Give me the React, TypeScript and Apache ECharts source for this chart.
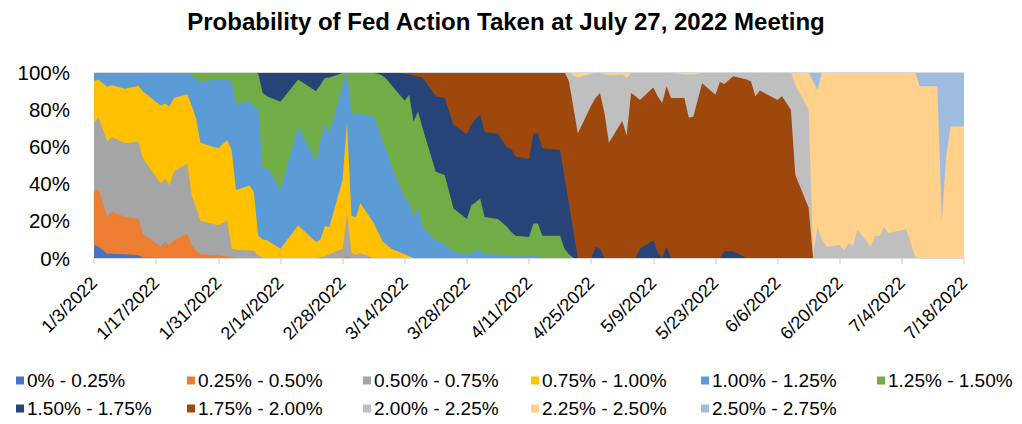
import React, { useEffect, useRef } from "react";
import * as echarts from "echarts";

// Observation dates (2022)
const dates = [
  "1/3", "1/4", "1/6", "1/7", "1/10", "1/13", "1/14", "1/18", "1/19", "1/20",
  "1/21", "1/24", "1/25", "1/26", "1/27", "1/31", "2/2", "2/3", "2/4", "2/7",
  "2/8", "2/9", "2/10", "2/11", "2/14", "2/18", "2/22", "2/23", "2/24", "2/25",
  "2/28", "3/1", "3/2", "3/3", "3/4", "3/7", "3/8", "3/9", "3/10", "3/11",
  "3/14", "3/15", "3/16", "3/17", "3/18", "3/21", "3/23", "3/25", "3/28", "3/29",
  "3/30", "3/31", "4/1", "4/4", "4/6", "4/7", "4/8", "4/11", "4/12", "4/13",
  "4/14", "4/18", "4/19", "4/20", "4/21", "4/22", "4/25", "4/26", "4/27", "4/28",
  "4/29", "5/2", "5/3", "5/4", "5/5", "5/6", "5/9", "5/10", "5/11", "5/12",
  "5/13", "5/16", "5/17", "5/18", "5/20", "5/23", "5/24", "5/25", "5/27", "5/30",
  "5/31", "6/1", "6/2", "6/6", "6/7", "6/9", "6/10", "6/13", "6/14", "6/15",
  "6/16", "6/17", "6/20", "6/21", "6/22", "6/23", "6/24", "6/27", "6/28", "6/29",
  "6/30", "7/1", "7/5", "7/7", "7/8", "7/12", "7/13", "7/14", "7/15", "7/18",
];

const seriesNames = [
  "0% - 0.25%", "0.25% - 0.50%", "0.50% - 0.75%", "0.75% - 1.00%",
  "1.00% - 1.25%", "1.25% - 1.50%", "1.50% - 1.75%", "1.75% - 2.00%",
  "2.00% - 2.25%", "2.25% - 2.50%", "2.50% - 2.75%",
];

const Z10 = [0, 0, 0, 0, 0, 0, 0, 0, 0, 0];

const p000_025 = [
  7, 6, 2.3, 2.3, 2, 1.5, 0.3, 0, 0, 0,
  ...Z10, ...Z10, ...Z10, ...Z10, ...Z10, ...Z10, ...Z10, ...Z10, ...Z10, ...Z10, ...Z10,
];
const p025_050 = [
  28.6, 31, 19.7, 22.7, 20, 19.5, 12.7, 6, 8.6, 7,
  9.5, 13, 7, 4, 2, 1.4, 1, 0.5, 0, 0,
  ...Z10,
  0, 1, 0, 0, 0, 0, 0, 0, 0, 0,
  ...Z10, ...Z10, ...Z10, ...Z10, ...Z10, ...Z10, ...Z10, ...Z10,
];
const p050_075 = [
  37.4, 38.5, 40.6, 40, 39.7, 41.6, 40.6, 34, 34.2, 32,
  36.9, 38, 26.8, 23, 18, 16.2, 19, 4.5, 4.5, 4,
  4, 1.5, 0, 0, 0, 0, 0, 0.5, 1, 2,
  5, 23, 3, 1.5, 2.5, 0, 0, 0, 0, 0,
  ...Z10, ...Z10, ...Z10, ...Z10, ...Z10, ...Z10, ...Z10, ...Z10,
];
const p075_100 = [
  22, 20.5, 29.4, 28, 29.3, 30, 36, 42, 40.2, 42.5,
  39.6, 37, 48.2, 48, 42, 41.4, 43.5, 53, 32, 35,
  31.6, 10.5, 10, 9.5, 5, 17.6, 8.6, 9.5, 16.2, 14.7,
  37, 49, 19.6, 20.5, 27, 19, 14, 9, 7, 5,
  2, 1, 0, 0, 0, 0, 0, 0, 0, 0,
  ...Z10, ...Z10, ...Z10, ...Z10, ...Z10, ...Z10, ...Z10,
];
const p100_125 = [
  5, 4, 8, 7, 9, 7, 9.9, 17, 16, 17.5,
  13.2, 11, 16.5, 21, 33, 37, 32.5, 37, 45.9, 45.5,
  45.9, 68.6, 37.3, 39.5, 31.5, 53.1, 43.4, 53, 55.3, 50.3,
  51, 26.8, 55.4, 55.5, 48, 57.5, 56, 54, 50, 45,
  30, 29, 22, 27, 17, 9.5, 7.7, 3.5, 1.8, 2.5,
  4, 4, 2.3, 1.8, 1.2, 1, 1, 1, 1.4, 0.8,
  0.5, 0, 0, 0, 0, 0, 0, 0, 0, 0,
  ...Z10, ...Z10, ...Z10, ...Z10, ...Z10,
];
const p125_150 = [
  0, 0, 0, 0, 0, 0.4, 0.5, 1, 1, 1,
  0.8, 1, 1.5, 4, 5, 4, 4, 5, 17.6, 15.5,
  18.5, 18.4, 41.4, 38, 47.5, 25.3, 37.6, 30, 24.3, 30,
  6.5, 0.2, 22, 22.5, 22.5, 23, 29, 35, 39, 43,
  52.5, 57.8, 51.4, 51.8, 53, 36.9, 36.9, 23.1, 19.2, 25.9,
  26, 28, 19.7, 19.2, 15.8, 13, 11, 10.3, 17.1, 17.7,
  11.5, 12, 5, 2, 0, 0, 0, 0, 0, 0,
  ...Z10, ...Z10, ...Z10, ...Z10, ...Z10,
];
const p150_175 = [
  ...Z10, ...Z10,
  0, 1, 11.3, 13, 16, 4, 10.4, 7, 3.2, 3,
  0.5, 0, 0, 0, 0, 0.5, 1, 2, 4, 7,
  14.5, 10.8, 24.6, 18.7, 27, 40.5, 41.4, 45, 45.5, 43.2,
  45, 45, 45.6, 46, 42.4, 44.6, 42.5, 41.9, 48.5, 48.5,
  47, 46, 38.5, 27, 14.5, 0, 0, 6, 5, 0,
  0, 0, 0, 0, 0, 5, 9.5, 3, 0, 6,
  0, 0, 0, 0, 0, 0, 0, 3.6, 3.6, 0,
  ...Z10, ...Z10, ...Z10,
];
const p175_200 = [
  ...Z10, ...Z10, ...Z10, ...Z10,
  1, 1.4, 2, 2.5, 3, 13.1, 14, 28.4, 33.5, 28.4,
  25, 23, 32.4, 33, 40.6, 41.4, 45.5, 46.8, 33, 33,
  41, 42, 56.5, 66, 66.5, 67, 82, 80, 83.7, 78,
  62, 73.7, 65.8, 88.7, 87, 80, 82.2, 84, 83.3, 86.3,
  86, 86, 75.5, 76, 94, 87.8, 94.6, 89.9, 94.1, 96,
  95, 87, 90, 85, 87, 79.7, 44.6, 27, 0, 0,
  ...Z10, ...Z10,
];
const p200_225 = [
  ...Z10, ...Z10, ...Z10, ...Z10, ...Z10, ...Z10,
  0, 0, 0, 5, 17, 30, 17, 13.5, 10.8, 20.6,
  36.2, 24.9, 31, 10.8, 12.5, 14.5, 7.8, 12.5, 16.2, 7.2,
  13.5, 12.6, 23.1, 22.6, 5.5, 11.7, 4.9, 6, 1.8, 3.5,
  4.5, 12.5, 9.5, 14.3, 12.3, 20.3, 48.4, 52.7, 1, 17,
  10, 6, 7, 4, 8, 6.5, 15, 6, 12, 12,
  16.7, 13.5, 15.5, 0.5, 0, 0, 0, 0, 0, 0,
];
const p225_250 = [
  ...Z10, ...Z10, ...Z10, ...Z10, ...Z10, ...Z10,
  0, 0, 0, 0, 2, 3, 1, 0.5, 0.5, 1.4,
  1.8, 1.4, 3.2, 0.5, 0.5, 0.5, 0.5, 0.5, 0.5, 0.5,
  0.5, 1.4, 1.4, 1.4, 0.5, 0.5, 0.5, 0.5, 0.5, 0.5,
  0.5, 0.5, 0.5, 0.7, 0.7, 0, 7, 20.3, 94, 73.5,
  90, 94, 93, 96, 92, 93.5, 85, 94, 88, 88,
  83.3, 86.5, 84.5, 99.5, 92.3, 92.3, 19.8, 55.4, 70.7, 70.7,
];
const p250_275 = [
  ...Z10, ...Z10, ...Z10, ...Z10, ...Z10, ...Z10, ...Z10, ...Z10, ...Z10,
  0, 0, 0, 0, 0, 0, 0, 0, 5, 9.5,
  ...Z10,
  0, 0, 0, 0, 7.7, 7.7, 80.2, 44.6, 29.3, 29.3,
];

const seriesValues = [
  p000_025, p025_050, p050_075, p075_100, p100_125, p125_150,
  p150_175, p175_200, p200_225, p225_250, p250_275,
];

const colors = [
  "#4472C4", "#ED7D31", "#A5A5A5", "#FFC000", "#5B9BD5", "#70AD47",
  "#264478", "#9E480E", "#BFBFBF", "#FFD18A", "#9DBCE0",
];

const xTickDays = 14; // label interval in days
const xSpanDays = 196; // 1/3/2022 .. 7/18/2022

const FONT = "'Liberation Sans', Arial, sans-serif";

const BASE = Date.UTC(2022, 0, 3);
function dayOffset(md: string): number {
  const [m, d] = md.split("/").map(Number);
  return Math.round((Date.UTC(2022, m - 1, d) - BASE) / 86400000);
}
function offsetLabel(v: number): string {
  const dt = new Date(BASE + Math.round(v) * 86400000);
  return `${dt.getUTCMonth() + 1}/${dt.getUTCDate()}/${dt.getUTCFullYear()}`;
}

const legendLeft = [16, 187, 363, 531, 701, 877, 16, 187, 363, 531, 701];
const legendTop = [371, 371, 371, 371, 371, 371, 399, 399, 399, 399, 399];

export default function App() {
  const ref = useRef<HTMLDivElement>(null);

  useEffect(() => {
    if (!ref.current) return;
    const chart = echarts.init(ref.current, undefined, { renderer: "svg" });
    const xs = dates.map(dayOffset);
    const totals = xs.map((_, i) =>
      seriesValues.reduce((acc, arr) => acc + (arr[i] || 0), 0)
    );
    // 100%-stacked: cumulative share up to and including each band
    const cumulative: number[][] = [];
    seriesValues.forEach((arr, k) => {
      cumulative.push(
        xs.map((_, i) => (k > 0 ? cumulative[k - 1][i] : 0) + ((arr[i] || 0) / totals[i]) * 100)
      );
    });

    // draw from the top band down so each lower band paints over the one above
    const series: any[] = seriesNames
      .map((name, k) => ({
        name,
        type: "line",
        symbol: "none",
        showSymbol: false,
        lineStyle: { width: 0 },
        areaStyle: { color: colors[k], opacity: 1, origin: "start" },
        itemStyle: { color: colors[k] },
        emphasis: { disabled: true },
        data: xs.map((x, i) => [x, Math.min(100, cumulative[k][i])]),
      }))
      .reverse();

    // thin plot-area top edge
    series[series.length - 1].markLine = {
      silent: true,
      symbol: "none",
      label: { show: false },
      lineStyle: { color: "#D9D9D9", width: 1, type: "solid" },
      data: [{ yAxis: 100 }],
    };

    const legends = seriesNames.map((name, k) => ({
      data: [{ name, itemStyle: { color: colors[k] } }],
      left: legendLeft[k],
      top: legendTop[k],
      orient: "horizontal",
      icon: "rect",
      itemWidth: 8,
      itemHeight: 8,
      padding: 0,
      selectedMode: false,
      textStyle: { fontFamily: FONT, fontSize: 19, color: "#000", padding: [0, 0, 0, -2] },
    }));

    chart.setOption({
      animation: false,
      color: colors,
      graphic: [
        {
          type: "text",
          x: 506,
          y: 21,
          style: {
            text: "Probability of Fed Action Taken at July 27, 2022 Meeting",
            font: `bold 24px ${FONT}`,
            fill: "#000",
            textAlign: "center",
            textVerticalAlign: "middle",
          },
        },
      ],
      legend: legends,
      grid: { left: 94, right: 58, top: 72, height: 186, containLabel: false },
      xAxis: {
        type: "value",
        min: 0,
        max: xSpanDays,
        interval: xTickDays,
        axisLine: { show: true, lineStyle: { color: "#D9D9D9", width: 1.5 } },
        axisTick: { show: true, length: 6, lineStyle: { color: "#D9D9D9", width: 1.5 } },
        splitLine: { show: false },
        axisLabel: {
          rotate: 45,
          margin: 22,
          fontFamily: FONT,
          fontSize: 18,
          color: "#000",
          formatter: (v: number) => offsetLabel(v),
          showMinLabel: true,
          showMaxLabel: true,
        },
      },
      yAxis: {
        type: "value",
        min: 0,
        max: 100,
        interval: 20,
        axisLine: { show: false },
        axisTick: { show: false },
        splitLine: { show: true, lineStyle: { color: "#D9D9D9", width: 1 } },
        axisLabel: {
          margin: 24,
          fontFamily: FONT,
          fontSize: 20.5,
          color: "#000",
          formatter: "{value}%",
        },
      },
      series,
    });
    return () => chart.dispose();
  }, []);

  return (
    <div
      ref={ref}
      style={{ position: "absolute", left: 0, top: 0, width: 1022, height: 424, background: "#fff" }}
    />
  );
}
